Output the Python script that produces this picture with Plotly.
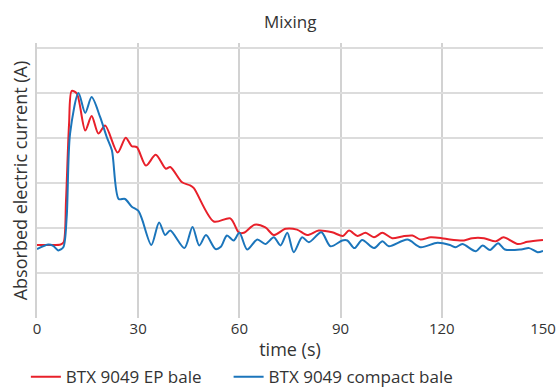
import plotly.graph_objects as go

# Data (time in s, current in relative units)
ep_time = [0, 3, 7, 7.9, 8.6, 9.5, 10.3, 11.8, 14.3, 16.2, 18.2, 20.2, 23.9, 26.3, 28.1, 29.6,
           32.3, 35.2, 38.2, 39.5, 43, 45.4, 46.5, 52.4, 57.3, 59.8, 61.3, 64.5, 67.7,
           70.2, 73.7, 77.1, 80.1, 83.5, 87.5, 90.7, 92.5, 95, 97.4, 99.9, 102.4, 105.3,
           108.3, 111.3, 113.7, 116.7, 120, 122.4, 126.6, 129, 132.5, 136, 138.3, 142.5,
           145.4, 150]
ep_current = [1.62, 1.62, 1.63, 1.68, 2.6, 4.3, 5.04, 4.98, 4.16, 4.48, 4.09, 4.27, 3.67, 4.0, 3.81, 3.79,
              3.38, 3.62, 3.31, 3.35, 3.01, 2.94, 2.88, 2.14, 2.21, 1.90, 1.89, 2.07, 2.01,
              1.84, 1.98, 1.96, 1.84, 1.94, 1.90, 1.82, 1.94, 1.82, 1.89, 1.79, 1.89, 1.77,
              1.81, 1.83, 1.74, 1.79, 1.77, 1.74, 1.72, 1.77, 1.77, 1.70, 1.79, 1.64,
              1.69, 1.73]

compact_time = [0, 3.4, 4.8, 6.3, 7.8, 8.8, 9.8, 12.3, 14.3, 16.2, 18.7, 20.7, 22.2, 24.2, 26.1,
                28.1, 30, 31.1, 33.9, 36.2, 38, 39.5, 43.7, 46.1, 48.1, 50.1, 52.9, 54.5,
                56.3, 58.3, 60, 62.3, 65.3, 67.7, 70.2, 72.2, 74.2, 76.1, 78.6, 80.6, 84.3,
                87, 90.5, 92, 94.1, 96.4, 99.9, 102.4, 104.3, 109.8, 113.7, 118.7, 122.4,
                124.1, 126.1, 130.1, 132.1, 134.3, 136.7, 138.7, 143.5, 145.9, 148.4, 150]
compact_current = [1.53, 1.63, 1.60, 1.50, 1.57, 2.24, 4.09, 4.99, 4.55, 4.90, 4.46, 4.01, 3.72, 2.64, 2.64,
                   2.47, 2.38, 2.20, 1.62, 2.12, 1.84, 1.94, 1.55, 2.02, 1.61, 1.84, 1.53, 1.58,
                   1.83, 1.72, 1.89, 1.52, 1.74, 1.64, 1.79, 1.61, 1.89, 1.46, 1.79, 1.68, 1.90,
                   1.59, 1.72, 1.72, 1.55, 1.73, 1.55, 1.70, 1.59, 1.74, 1.57, 1.67, 1.62,
                   1.57, 1.64, 1.48, 1.61, 1.51, 1.66, 1.52, 1.52, 1.55, 1.46, 1.49]

x_ticks = [0, 30, 60, 90, 120, 150]
y_grid = [1, 2, 3, 4, 5, 6]
series_names = ["BTX 9049 EP bale", "BTX 9049 compact bale"]

FONT = "Open Sans"
TXT = "#333333"
PAD = "\u00a0" * 5  # spacing between the two legend entries

fig = go.Figure()
fig.add_trace(go.Scatter(x=ep_time, y=ep_current, mode="lines", name=series_names[0] + PAD,
                         line=dict(color="#e8202a", width=2, shape="spline", smoothing=0.8)))
fig.add_trace(go.Scatter(x=compact_time, y=compact_current, mode="lines", name=series_names[1],
                         line=dict(color="#1b75bb", width=2, shape="spline", smoothing=0.8)))

fig.update_layout(
    width=558, height=387,
    margin=dict(l=37, r=15, t=43, b=69, autoexpand=False),
    paper_bgcolor="white", plot_bgcolor="white",
    font=dict(family=FONT, size=15, color=TXT),
    title=dict(text="Mixing", x=0.52, xanchor="center", y=0.943, yanchor="middle",
               font=dict(family=FONT, size=17, color=TXT)),
    showlegend=True,
    legend=dict(orientation="h", x=-0.022, xanchor="left", y=-0.215, yanchor="middle",
                font=dict(family=FONT, size=17, color=TXT), itemwidth=30,
                bgcolor="rgba(0,0,0,0)", tracegroupgap=0),
)
fig.update_xaxes(range=[0, 150], tickvals=x_ticks, ticktext=[str(v) for v in x_ticks],
                 showgrid=True, gridcolor="#d2d2d2", gridwidth=2, zeroline=False,
                 showline=False, ticks="", tickfont=dict(size=15, color=TXT), automargin=False,
                 title=dict(text="time (s)", standoff=6, font=dict(size=18, color=TXT)))
fig.update_yaxes(range=[0, 6.1], tickvals=y_grid, showticklabels=False, automargin=False,
                 showgrid=True, gridcolor="#dcdcdc", gridwidth=1.5, zeroline=False,
                 showline=True, linecolor="#d2d2d2", linewidth=2, ticks="",
                 title=dict(text="Absorbed electric current (A)", standoff=3,
                            font=dict(size=18, color=TXT)))

fig.write_html("out.html", config={"displayModeBar": False},
               post_script="document.body.style.margin='0';document.body.style.overflow='hidden';")
